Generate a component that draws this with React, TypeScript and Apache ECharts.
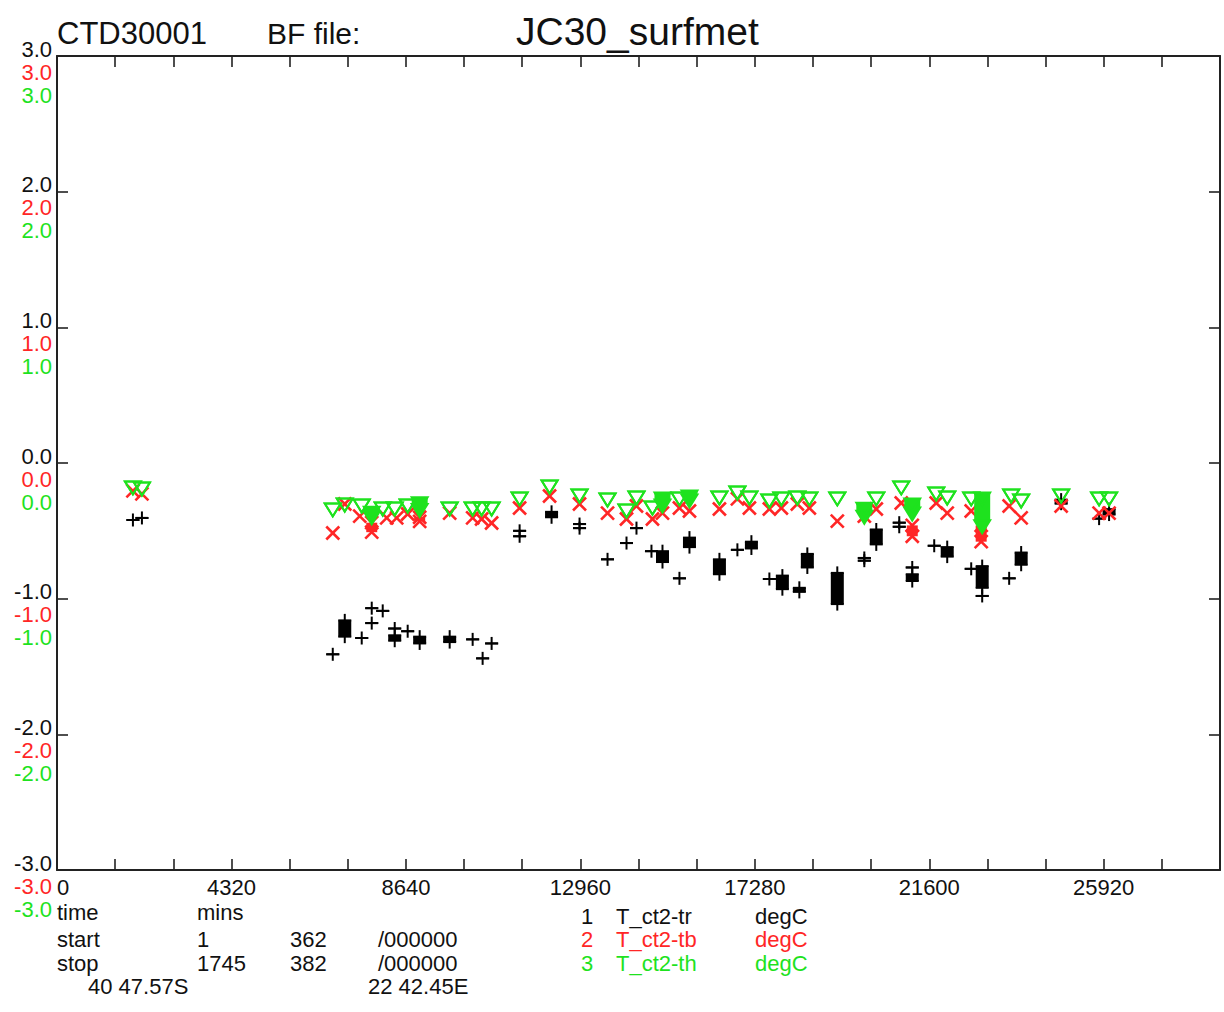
import React, { useEffect, useRef } from "react";
import * as echarts from "echarts";

const FONT = '"Liberation Sans", Arial, Helvetica, sans-serif';
const INK = "#111111";
const RED = "#ff2626";
const GREEN = "#1ee21e";

// time axis, minutes
const timeMin = 0;
const timeMax = 28800;
const timeTickStep = 1440;
const timeLabelStep = 4320;

// temperature axis, degC
const tempMin = -3;
const tempMax = 3;
const tempStep = 1;

// Each entry: [time (mins), value] or [time, lowest, highest] where samples pile up
const tCt2Tr: number[][] = [
  [1880, -0.42], [2103, -0.405],
  [6829, -1.41], [7126, -1.28, -1.16], [7546, -1.29], [7794, -1.07], [7794, -1.18],
  [8066, -1.09], [8363, -1.22], [8363, -1.31, -1.27], [8684, -1.24], [8981, -1.33, -1.28],
  [9724, -1.32, -1.28], [10293, -1.3], [10540, -1.44], [10763, -1.33],
  [11456, -0.5], [11456, -0.54], [12247, -0.4, -0.36], [12940, -0.45], [12940, -0.48],
  [13633, -0.71], [14103, -0.59], [14350, -0.48], [14721, -0.65], [14994, -0.73, -0.65],
  [15414, -0.85], [15662, -0.62, -0.55], [16404, -0.82, -0.71], [16849, -0.64],
  [17196, -0.63, -0.58], [17641, -0.855], [17963, -0.93, -0.83], [18383, -0.95, -0.92],
  [18581, -0.77, -0.67], [19323, -1.04, -0.81], [19992, -0.7], [19992, -0.72],
  [20288, -0.6, -0.49], [20857, -0.44], [20857, -0.47], [21179, -0.77], [21179, -0.87, -0.82],
  [21723, -0.61], [22045, -0.69, -0.62], [22639, -0.78], [22911, -0.92, -0.76], [22911, -0.98],
  [23579, -0.85], [23876, -0.75, -0.66], [24866, -0.3, -0.27], [25806, -0.41], [26053, -0.38, -0.34],
];

const tCt2Tb: number[][] = [
  [1880, -0.206], [2103, -0.228],
  [6829, -0.516], [7126, -0.302], [7497, -0.391], [7794, -0.51, -0.44], [8165, -0.405],
  [8412, -0.405], [8684, -0.376], [8981, -0.43, -0.4], [9724, -0.369], [10293, -0.405],
  [10515, -0.413], [10763, -0.442], [11456, -0.332], [12198, -0.243], [12940, -0.302],
  [13633, -0.369], [14103, -0.413], [14350, -0.317], [14746, -0.413], [14994, -0.369],
  [15414, -0.332], [15662, -0.354], [16404, -0.339], [16849, -0.265], [17146, -0.332],
  [17641, -0.339], [17938, -0.332], [18334, -0.302], [18631, -0.332], [19323, -0.428],
  [19992, -0.391], [20288, -0.339], [20907, -0.295], [21179, -0.54, -0.46], [21773, -0.295],
  [22045, -0.369], [22639, -0.354], [22886, -0.58, -0.46], [23579, -0.317], [23876, -0.405],
  [24866, -0.317], [25806, -0.369], [26053, -0.369],
];

const tCt2Th: number[][] = [
  [1880, -0.184], [2103, -0.192],
  [6829, -0.346], [7126, -0.31], [7546, -0.317], [7794, -0.405, -0.37], [8066, -0.339],
  [8363, -0.339], [8684, -0.317], [8981, -0.35, -0.3], [9724, -0.339], [10293, -0.339],
  [10515, -0.339], [10763, -0.339], [11456, -0.265], [12198, -0.177], [12940, -0.243],
  [13633, -0.273], [14103, -0.354], [14350, -0.258], [14746, -0.332], [14994, -0.317, -0.265],
  [15414, -0.265], [15662, -0.28, -0.25], [16404, -0.258], [16849, -0.221], [17146, -0.258],
  [17641, -0.28], [17938, -0.265], [18334, -0.258], [18631, -0.265], [19323, -0.265],
  [19992, -0.4, -0.34], [20288, -0.265], [20907, -0.184], [21179, -0.376, -0.31],
  [21773, -0.228], [22045, -0.258], [22639, -0.265], [22911, -0.47, -0.265],
  [23629, -0.243], [23876, -0.28], [24866, -0.243], [25806, -0.265], [26053, -0.265],
];

// header and footer texts
const stationLabel = "CTD30001";
const fileLabel = "BF file:";
const fileName = "JC30_surfmet";
const legendRows = [
  { n: "1", name: "T_ct2-tr", unit: "degC", color: INK },
  { n: "2", name: "T_ct2-tb", unit: "degC", color: RED },
  { n: "3", name: "T_ct2-th", unit: "degC", color: GREEN },
];

const asRange = (rows: number[][]) => rows.map((r) => [r[0], r[1], r.length > 2 ? r[2] : r[1]]);

const PLUS = 6.5;
const CROSS = 6.5;
const TRI_W = 8;
const TRI_H = 6.5;

function plusItem(_p: any, api: any) {
  const t = api.value(0);
  const a = api.coord([t, api.value(1)]);
  const b = api.coord([t, api.value(2)]);
  const x = a[0];
  const lowY = Math.max(a[1], b[1]);
  const highY = Math.min(a[1], b[1]);
  const st = { stroke: "#000", lineWidth: 2 };
  const children: any[] = [
    { type: "line", shape: { x1: x, y1: highY - PLUS, x2: x, y2: lowY + PLUS }, style: st },
    { type: "line", shape: { x1: x - PLUS, y1: lowY, x2: x + PLUS, y2: lowY }, style: st },
    { type: "line", shape: { x1: x - PLUS, y1: highY, x2: x + PLUS, y2: highY }, style: st },
  ];
  if (lowY - highY > 0.5) {
    children.push({ type: "rect", shape: { x: x - PLUS, y: highY, width: PLUS * 2, height: lowY - highY }, style: { fill: "#000" } });
  }
  return { type: "group", children };
}

function crossItem(_p: any, api: any) {
  const t = api.value(0);
  const a = api.coord([t, api.value(1)]);
  const b = api.coord([t, api.value(2)]);
  const x = a[0];
  const lowY = Math.max(a[1], b[1]);
  const highY = Math.min(a[1], b[1]);
  const st = { stroke: RED, lineWidth: 2.6 };
  const xs = (y: number) => [
    { type: "line", shape: { x1: x - CROSS, y1: y - CROSS, x2: x + CROSS, y2: y + CROSS }, style: st },
    { type: "line", shape: { x1: x - CROSS, y1: y + CROSS, x2: x + CROSS, y2: y - CROSS }, style: st },
  ];
  const children: any[] = [...xs(lowY)];
  if (lowY - highY > 0.5) {
    children.push(...xs(highY));
    children.push({ type: "rect", shape: { x: x - CROSS + 1, y: highY, width: CROSS * 2 - 2, height: lowY - highY }, style: { fill: RED } });
  }
  return { type: "group", children };
}

function triangleItem(_p: any, api: any) {
  const t = api.value(0);
  const a = api.coord([t, api.value(1)]);
  const b = api.coord([t, api.value(2)]);
  const x = a[0];
  const lowY = Math.max(a[1], b[1]);
  const highY = Math.min(a[1], b[1]);
  const tri = (y: number) => [
    [x - TRI_W, y - TRI_H],
    [x + TRI_W, y - TRI_H],
    [x, y + TRI_H],
  ];
  const children: any[] = [];
  if (lowY - highY > 0.5) {
    children.push({
      type: "polygon",
      shape: {
        points: [
          [x - TRI_W, highY - TRI_H],
          [x + TRI_W, highY - TRI_H],
          [x + TRI_W, lowY - TRI_H],
          [x, lowY + TRI_H],
          [x - TRI_W, lowY - TRI_H],
        ],
      },
      style: { fill: GREEN },
    });
  }
  children.push({ type: "polygon", shape: { points: tri(lowY) }, style: { fill: "none", stroke: GREEN, lineWidth: 2 } });
  children.push({ type: "polygon", shape: { points: tri(highY) }, style: { fill: "none", stroke: GREEN, lineWidth: 2 } });
  return { type: "group", children };
}

const fmtTemp = (v: number) => v.toFixed(1);

function buildOption(): any {
  const frameLine = { show: true, onZero: false, lineStyle: { color: "#222", width: 2 } };
  const tick = { show: true, inside: true, length: 11, lineStyle: { color: "#222", width: 1.6 } };
  const txt = (x: number, y: number, text: string, fill = INK, size = 22, align = "left") => ({
    type: "text",
    x,
    y,
    silent: true,
    style: { text, fill, font: `${size}px ${FONT}`, align, verticalAlign: "middle" },
  });
  const graphics: any[] = [
    txt(57, 33, stationLabel, INK, 31),
    txt(267, 33, fileLabel, INK, 30),
    txt(516, 31, fileName, INK, 39),
    txt(57, 912, "time"),
    txt(197, 912, "mins"),
    txt(57, 939, "start"),
    txt(197, 939, "1"),
    txt(290, 939, "362"),
    txt(378, 939, "/000000"),
    txt(57, 963, "stop"),
    txt(197, 963, "1745"),
    txt(290, 963, "382"),
    txt(378, 963, "/000000"),
    txt(88, 986, "40 47.57S"),
    txt(368, 986, "22 42.45E"),
  ];
  legendRows.forEach((r, i) => {
    const y = 916 + i * 23.5;
    graphics.push(txt(587, y, r.n, r.color, 22, "center"));
    graphics.push(txt(616, y, r.name, r.color));
    graphics.push(txt(755, y, r.unit, r.color));
  });

  return {
    animation: false,
    backgroundColor: "#ffffff",
    grid: { left: 57, top: 56, width: 1163, height: 814, containLabel: false },
    xAxis: [
      {
        type: "value",
        position: "bottom",
        min: timeMin,
        max: timeMax,
        interval: timeTickStep,
        axisLine: frameLine,
        axisTick: tick,
        splitLine: { show: false },
        axisLabel: {
          show: true,
          margin: 6,
          color: INK,
          fontFamily: FONT,
          fontSize: 22,
          showMinLabel: true,
          showMaxLabel: true,
          alignMinLabel: "left",
          formatter: (v: number) => (v % timeLabelStep !== 0 || v >= timeMax ? "" : String(v)),
        },
      },
      {
        type: "value",
        position: "top",
        min: timeMin,
        max: timeMax,
        interval: timeTickStep,
        axisLine: frameLine,
        axisTick: tick,
        splitLine: { show: false },
        axisLabel: { show: false },
      },
    ],
    yAxis: [
      {
        type: "value",
        position: "left",
        min: tempMin,
        max: tempMax,
        interval: tempStep,
        axisLine: frameLine,
        axisTick: tick,
        splitLine: { show: false },
        axisLabel: {
          show: true,
          margin: 5,
          showMinLabel: true,
          showMaxLabel: true,
          padding: [32, 0, 0, 0],
          formatter: (v: number) => {
            const s = fmtTemp(v);
            return `{k|${s}}\n{r|${s}}\n{g|${s}}`;
          },
          rich: {
            k: { color: INK, fontFamily: FONT, fontSize: 22, lineHeight: 23, align: "right" },
            r: { color: RED, fontFamily: FONT, fontSize: 22, lineHeight: 23, align: "right" },
            g: { color: GREEN, fontFamily: FONT, fontSize: 22, lineHeight: 23, align: "right" },
          },
        },
      },
      {
        type: "value",
        position: "right",
        min: tempMin,
        max: tempMax,
        interval: tempStep,
        axisLine: frameLine,
        axisTick: tick,
        splitLine: { show: false },
        axisLabel: { show: false },
      },
    ],
    series: [
      { name: "T_ct2-tr", type: "custom", xAxisIndex: 0, yAxisIndex: 0, clip: false, renderItem: plusItem, data: asRange(tCt2Tr), encode: { x: 0, y: [1, 2] } },
      { name: "T_ct2-tb", type: "custom", xAxisIndex: 0, yAxisIndex: 0, clip: false, renderItem: crossItem, data: asRange(tCt2Tb), encode: { x: 0, y: [1, 2] } },
      { name: "T_ct2-th", type: "custom", xAxisIndex: 0, yAxisIndex: 0, clip: false, renderItem: triangleItem, data: asRange(tCt2Th), encode: { x: 0, y: [1, 2] } },
    ],
    graphic: graphics,
  };
}

export default function App() {
  const ref = useRef<HTMLDivElement>(null);
  useEffect(() => {
    if (!ref.current) return;
    const chart = echarts.init(ref.current, null, { renderer: "svg" });
    chart.setOption(buildOption());
    return () => chart.dispose();
  }, []);
  return (
    <div style={{ position: "fixed", left: 0, top: 0, width: 1224, height: 1012, background: "#fff" }}>
      <div ref={ref} style={{ width: 1224, height: 1012 }} />
    </div>
  );
}
